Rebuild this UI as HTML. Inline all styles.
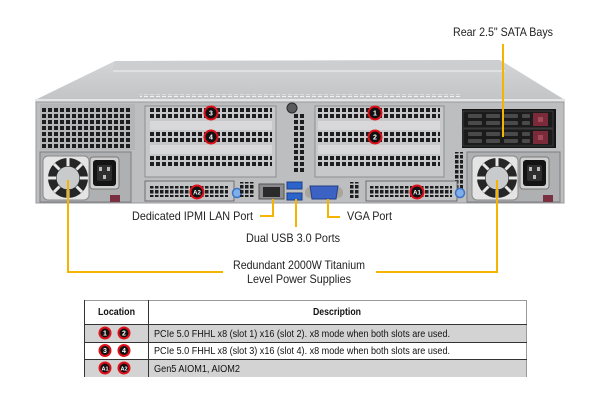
<!DOCTYPE html>
<html><head><meta charset="utf-8"><style>
html,body{margin:0;padding:0;background:#fff;}
svg{display:block;}
text{font-family:"Liberation Sans",Arial,sans-serif;}
</style></head><body>
<svg width="600" height="400" viewBox="0 0 600 400" xmlns="http://www.w3.org/2000/svg">
<defs>
<pattern id="h" width="6" height="6" patternUnits="userSpaceOnUse"><rect width="4" height="4" fill="#1d1d1f"/></pattern>
<pattern id="hs" width="5" height="5" patternUnits="userSpaceOnUse"><rect width="3.5" height="3.5" fill="#1d1d1f"/></pattern>
<pattern id="perf" width="6" height="3" patternUnits="userSpaceOnUse"><rect width="4" height="1.5" fill="#f2f2f2"/></pattern>
<linearGradient id="top" x1="0" y1="0" x2="0" y2="1"><stop offset="0" stop-color="#d4d5d7"/><stop offset="1" stop-color="#c3c4c6"/></linearGradient>
<g id="fan">
<rect x="-25" y="-22" width="46" height="44" rx="5" fill="#e4e4e4" stroke="#8a8a8a"/>
<circle r="20" fill="#262626"/>
<g stroke="#e8e8e8" stroke-width="3">
<line x1="0" y1="-12" x2="0" y2="-20"/><line x1="0" y1="12" x2="0" y2="20"/>
<line x1="-12" y1="0" x2="-20" y2="0"/><line x1="12" y1="0" x2="20" y2="0"/>
<line x1="8.5" y1="8.5" x2="14" y2="14"/><line x1="-8.5" y1="8.5" x2="-14" y2="14"/>
<line x1="8.5" y1="-8.5" x2="14" y2="-14"/><line x1="-8.5" y1="-8.5" x2="-14" y2="-14"/>
</g>
<circle r="11.5" fill="#c9cacc"/>
</g>
<g id="inlet">
<rect x="0" y="0" width="29" height="32" rx="3" fill="#d0d0d0" stroke="#777"/>
<rect x="3" y="3" width="23" height="26" rx="3" fill="#141414"/>
<rect x="7" y="8" width="15" height="16" rx="2" fill="#2e2e2e"/>
<rect x="9" y="10" width="3" height="4" fill="#bbb"/><rect x="17" y="10" width="3" height="4" fill="#bbb"/><rect x="13" y="18" width="3" height="4" fill="#bbb"/>
</g>
<g id="bay">
<rect x="0" y="0" width="90" height="17" fill="#1b1b1b" stroke="#444" stroke-width="0.8"/>
<rect x="5" y="3" width="14" height="4" rx="1" fill="#4a4a4a"/><rect x="5" y="10" width="14" height="4" rx="1" fill="#4a4a4a"/>
<rect x="23" y="3" width="14" height="4" rx="1" fill="#4a4a4a"/><rect x="23" y="10" width="14" height="4" rx="1" fill="#4a4a4a"/>
<rect x="41" y="3" width="14" height="4" rx="1" fill="#4a4a4a"/><rect x="41" y="10" width="14" height="4" rx="1" fill="#4a4a4a"/>
<rect x="59" y="3" width="8" height="4" rx="1" fill="#4a4a4a"/><rect x="59" y="10" width="8" height="4" rx="1" fill="#4a4a4a"/>
<rect x="70" y="2" width="15" height="13" fill="#7a2a38"/><rect x="75" y="6" width="5" height="5" fill="#a04a58"/>
</g>
</defs>

<!-- top face -->
<polygon points="115,61 500,60 565,100 35,100" fill="url(#top)"/>
<polygon points="115,61 500,60 506,70 112,71" fill="#cdced0"/>
<line x1="113" y1="71" x2="505" y2="71" stroke="#e6e6e8" stroke-width="1.5"/>
<rect x="140" y="94" width="320" height="3" fill="url(#perf)"/>
<rect x="35" y="99" width="530" height="3" fill="#e4e5e7"/>
<!-- front panel -->
<rect x="36" y="102" width="528" height="101" fill="#bdbec0" stroke="#9a9b9d" stroke-width="1"/>

<!-- left grille -->
<rect x="40" y="104" width="95" height="46" fill="#b5b6b8"/>
<rect x="42" y="106" width="90" height="42" fill="url(#h)"/>

<!-- left PSU -->
<rect x="40" y="152" width="91" height="50" fill="#afb0b2" stroke="#7e7e80"/>
<use href="#fan" x="68" y="178"/>
<use href="#inlet" x="90" y="157"/>
<rect x="110" y="195" width="10" height="7" fill="#7a3040"/>

<!-- left PCIe block -->
<rect x="145" y="106" width="131" height="71" fill="#c7c8ca" stroke="#8e8e90"/>
<rect x="150" y="108" width="122" height="11" fill="url(#h)"/>
<rect x="150" y="121" width="122" height="9" fill="#d8d8da"/>
<rect x="150" y="132" width="122" height="11" fill="url(#h)"/>
<rect x="150" y="145" width="122" height="9" fill="#d8d8da"/>
<rect x="150" y="156" width="122" height="11" fill="url(#h)"/>

<!-- center column -->
<rect x="294" y="114" width="10" height="58" fill="url(#h)"/>
<circle cx="292" cy="108" r="5" fill="#5a5b5e" stroke="#2a2a2a"/>

<!-- right PCIe block -->
<rect x="315" y="106" width="129" height="71" fill="#c7c8ca" stroke="#8e8e90"/>
<rect x="318" y="108" width="122" height="11" fill="url(#h)"/>
<rect x="318" y="121" width="122" height="9" fill="#d8d8da"/>
<rect x="318" y="132" width="122" height="11" fill="url(#h)"/>
<rect x="318" y="145" width="122" height="9" fill="#d8d8da"/>
<rect x="318" y="156" width="122" height="11" fill="url(#h)"/>

<!-- SATA bays -->
<rect x="462" y="109" width="94" height="39" fill="#151515"/>
<use href="#bay" x="463" y="111"/>
<use href="#bay" x="463" y="129"/>
<rect x="455" y="152" width="8" height="44" fill="url(#hs)"/>

<!-- right PSU -->
<rect x="467" y="152" width="93" height="50" fill="#afb0b2" stroke="#7e7e80"/>
<use href="#fan" x="497" y="178"/>
<use href="#inlet" x="520" y="157"/>
<rect x="543" y="195" width="10" height="7" fill="#7a3040"/>

<!-- AIOM left -->
<rect x="145" y="181" width="89" height="20" fill="#c2c3c5" stroke="#6e6e70"/>
<rect x="150" y="186" width="78" height="11" fill="url(#hs)"/>
<circle cx="237" cy="193" r="4.5" fill="#7faee8" stroke="#3d74c8" stroke-width="1.5"/>
<rect x="240" y="182" width="14" height="15" fill="url(#hs)"/>

<!-- LAN -->
<rect x="259" y="184" width="25" height="15" fill="#8c8c8e" stroke="#555"/>
<rect x="263" y="187" width="17" height="10" fill="#2a2a2a"/>
<!-- USB -->
<rect x="287" y="182" width="15" height="7" fill="#2b65cc" stroke="#1a3f88"/>
<rect x="287" y="193" width="15" height="7" fill="#2b65cc" stroke="#1a3f88"/>
<!-- VGA -->
<rect x="305" y="187" width="38" height="11" rx="5" fill="#a9a59a"/>
<polygon points="310,186 338,186 336,199 312,199" fill="#3c62c4" stroke="#223f88"/>
<rect x="350" y="182" width="10" height="16" fill="url(#hs)"/>

<!-- AIOM right -->
<rect x="366" y="181" width="91" height="20" fill="#c2c3c5" stroke="#6e6e70"/>
<rect x="370" y="186" width="82" height="11" fill="url(#hs)"/>
<circle cx="460" cy="193" r="4.5" fill="#7faee8" stroke="#3d74c8" stroke-width="1.5"/>

<!-- badges on server -->
<g font-weight="bold" font-size="7" fill="#fff" text-anchor="middle">
<circle cx="211" cy="113" r="6.5" fill="#111" stroke="#e0101a" stroke-width="2"/><text x="211" y="115.5">3</text>
<circle cx="211" cy="137" r="6.5" fill="#111" stroke="#e0101a" stroke-width="2"/><text x="211" y="139.5">4</text>
<circle cx="375" cy="113" r="6.5" fill="#111" stroke="#e0101a" stroke-width="2"/><text x="375" y="115.5">1</text>
<circle cx="375" cy="137" r="6.5" fill="#111" stroke="#e0101a" stroke-width="2"/><text x="375" y="139.5">2</text>
<circle cx="197" cy="192" r="6.5" fill="#111" stroke="#e0101a" stroke-width="2"/><text x="197" y="194.5" font-size="6">A2</text>
<circle cx="417" cy="192" r="6.5" fill="#111" stroke="#e0101a" stroke-width="2"/><text x="417" y="194.5" font-size="6">A1</text>
</g>

<!-- callout lines -->
<g stroke="#f4b400" stroke-width="2" fill="none">
<line x1="503" y1="44" x2="503" y2="137"/>
<polyline points="260,216 273,216 273,199"/>
<line x1="296" y1="199" x2="296" y2="227"/>
<polyline points="328,199 328,217 340,217"/>
<polyline points="68,180 68,272 223,272"/>
<polyline points="376,272 497,272 497,180"/>
</g>

<!-- labels -->
<g font-size="12" fill="#222">
<text x="453" y="36" textLength="100" lengthAdjust="spacingAndGlyphs">Rear 2.5" SATA Bays</text>
<text x="132" y="220" textLength="121" lengthAdjust="spacingAndGlyphs">Dedicated IPMI  LAN Port</text>
<text x="347" y="220" textLength="45" lengthAdjust="spacingAndGlyphs">VGA Port</text>
<text x="246" y="242" textLength="94" lengthAdjust="spacingAndGlyphs">Dual USB 3.0 Ports</text>
<text x="233" y="269" textLength="132" lengthAdjust="spacingAndGlyphs">Redundant  2000W Titanium</text>
<text x="247" y="283" textLength="104" lengthAdjust="spacingAndGlyphs">Level Power Supplies</text>
</g>

<!-- table -->
<rect x="84" y="300" width="443" height="24" fill="#fff"/>
<rect x="84" y="324" width="443" height="18" fill="#d3d3d3"/>
<rect x="84" y="342" width="443" height="17" fill="#fff"/>
<rect x="84" y="359" width="443" height="18" fill="#d3d3d3"/>
<g stroke="#333" stroke-width="1">
<line x1="84" y1="300.5" x2="527" y2="300.5" stroke="#999"/>
<line x1="84.5" y1="300" x2="84.5" y2="377"/>
<line x1="526.5" y1="300" x2="526.5" y2="377" stroke="#999"/>
<line x1="148.5" y1="300" x2="148.5" y2="377"/>
<line x1="84" y1="324.5" x2="527" y2="324.5"/>
<line x1="84" y1="342.5" x2="527" y2="342.5"/>
<line x1="84" y1="359.5" x2="527" y2="359.5"/>
</g>
<g font-size="10" fill="#111">
<text x="98" y="315" font-weight="bold" textLength="37" lengthAdjust="spacingAndGlyphs">Location</text>
<text x="313" y="315" font-weight="bold" textLength="48" lengthAdjust="spacingAndGlyphs">Description</text>
<text x="154" y="337" textLength="296" lengthAdjust="spacingAndGlyphs">PCIe 5.0 FHHL  x8 (slot 1) x16 (slot 2). x8 mode when both slots are used.</text>
<text x="154" y="354" textLength="296" lengthAdjust="spacingAndGlyphs">PCIe 5.0 FHHL  x8 (slot 3) x16 (slot 4). x8 mode when both slots are used.</text>
<text x="154" y="372" textLength="86" lengthAdjust="spacingAndGlyphs">Gen5 AIOM1, AIOM2</text>
</g>
<g font-weight="bold" font-size="7" fill="#fff" text-anchor="middle">
<circle cx="105" cy="333" r="5.5" fill="#111" stroke="#e0101a" stroke-width="2"/><text x="105" y="335.5">1</text>
<circle cx="124" cy="333" r="5.5" fill="#111" stroke="#e0101a" stroke-width="2"/><text x="124" y="335.5">2</text>
<circle cx="105" cy="350.5" r="5.5" fill="#111" stroke="#e0101a" stroke-width="2"/><text x="105" y="353">3</text>
<circle cx="124" cy="350.5" r="5.5" fill="#111" stroke="#e0101a" stroke-width="2"/><text x="124" y="353">4</text>
<circle cx="105" cy="368" r="5.5" fill="#111" stroke="#e0101a" stroke-width="2"/><text x="105" y="370.5" font-size="5.5">A1</text>
<circle cx="124" cy="368" r="5.5" fill="#111" stroke="#e0101a" stroke-width="2"/><text x="124" y="370.5" font-size="5.5">A2</text>
</g>
</svg>
</body></html>
